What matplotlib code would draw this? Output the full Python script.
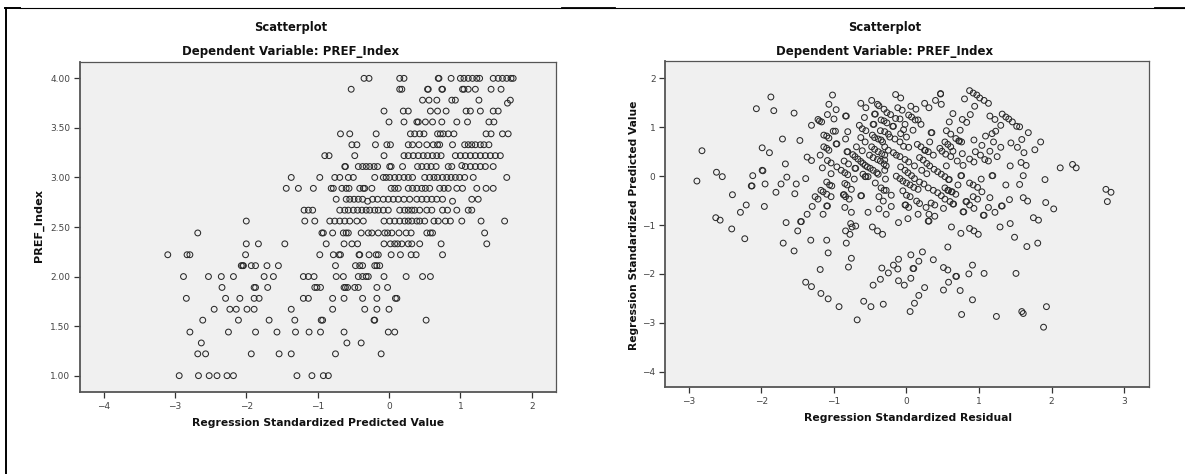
import numpy as np
import matplotlib
matplotlib.use('Agg')
import matplotlib.pyplot as plt
from matplotlib.lines import Line2D

W, H = 1185, 474

# left chart: standardized predicted value for each PREF_Index level
row_400 = [-.35, -.28, .15, .21, .69, .70, .87, 1.0, 1.05, 1.11, 1.17, 1.23, 1.27, 1.46, 1.53, 1.59, 1.65, 1.71, 1.74]
row_389 = [-.53, .15, .18, .54, .55, .74, .75, 1.03, 1.05, 1.11, 1.21, 1.43, 1.57]
row_378 = [.47, .56, .67, .88, .93, 1.26, 1.70]
row_367 = [-.07, .2, .27, .58, .68, .80, 1.08, 1.14, 1.28, 1.46, 1.53]
row_356 = [0, .21, .39, .41, .51, .61, .74, .95, 1.10, 1.40, 1.47]
row_344 = [-.68, -.55, -.18, .30, .36, .43, .49, .68, .72, .76, .83, .91, 1.36, 1.43, 1.59, 1.67]
row_333 = [-.52, -.45, -.19, -.03, .02, .27, .33, .42, .53, .62, .68, .71, .89, 1.06, 1.11, 1.16, 1.21, 1.28, 1.33, 1.40]
row_322 = [-.90, -.84, -.48, -.07, .21, .27, .34, .41, .48, .54, .61, .67, .73, .93, 1.0, 1.07, 1.14, 1.21, 1.28, 1.35, 1.42, 1.49, 1.56]
row_311 = [-.62, -.61, -.43, -.37, -.32, -.27, -.21, -.16, .01, .03, .19, .40, .46, .53, .59, .66, .83, .88, 1.07, 1.14, 1.21, 1.28, 1.35, 1.46]
row_300 = [-1.37, -.97, -.76, -.69, -.57, -.5, -.20, -.08, -.04, .01, .08, .14, .21, .27, .33, .50, .57, .63, .68, .75, .81, .87, .93, .99, 1.06, 1.18, 1.65]
row_289 = [-1.44, -1.27, -1.06, -.81, -.78, -.66, -.6, -.56, -.41, -.36, -.34, -.24, .03, .08, .13, .27, .33, .39, .46, .51, .57, .71, .77, .83, .95, 1.03, 1.23, 1.36, 1.46]
row_278 = [-.74, -.6, -.55, -.49, -.43, -.37, -.23, -.16, -.08, -.01, .06, .13, .21, .29, .39, .46, .53, .6, .67, .75, 1.16, 1.25]
row_267 = [-1.19, -1.13, -1.07, -.69, -.62, -.57, -.5, -.44, -.38, -.32, -.27, -.2, -.15, -.08, -.01, .15, .22, .27, .32, .36, .43, .53, .6, .75, .82, .95, 1.11, 1.16]
row_256 = [-2.0, -1.18, -1.04, -.83, -.76, -.69, -.62, -.55, -.45, -.36, -.07, .01, .08, .15, .22, .27, .32, .39, .43, .5, .63, .69, .79, .86, 1.02, 1.29, 1.62]
row_244 = [-2.68, -.94, -.92, -.79, -.64, -.60, -.57, -.39, -.29, -.24, -.15, -.06, -.02, .04, .14, .24, .31, .53, .58, .61, 1.34]
row_233 = [-2.0, -1.83, -1.46, -.88, -.63, -.52, -.44, -.07, .02, .08, .12, .18, .27, .32, .43, .73, 1.37]
row_222 = [-3.10, -2.83, -2.79, -2.01, -.97, -.78, -.70, -.68, -.42, -.41, -.28, -.18, -.15, .03, .16, .31, .38, .75]
row_211 = [-2.07, -2.05, -2.04, -1.93, -1.87, -1.71, -1.55, -.75, -.47, -.41, -.37, -.2, -.17, -.13]
row_200 = [-2.88, -2.53, -2.35, -2.18, -1.75, -1.62, -1.2, -1.13, -1.05, -.74, -.64, -.43, -.37, -.32, -.29, -.07, .24, .47, .58]
row_189 = [-2.34, -1.89, -1.87, -1.70, -1.04, -1.01, -.96, -.63, -.61, -.58, -.48, -.43, -.17, -.02]
row_178 = [-2.84, -2.29, -2.09, -1.89, -1.82, -1.2, -1.13, -.79, -.63, -.37, -.17, .09, .11]
row_167 = [-2.45, -2.23, -2.14, -1.99, -1.89, -1.37, -.79, -.34, -.17, 0]
row_156 = [-2.61, -2.11, -1.68, -1.32, -.95, -.93, -.21, -.2, .52]
row_144 = [-2.79, -2.25, -1.87, -1.57, -1.31, -1.12, -.96, -.63, -.01, .08]
row_133 = [-2.63, -.59, -.39]
row_122 = [-2.68, -2.57, -1.93, -1.54, -1.37, -.75, -.11]
row_100 = [-2.94, -2.67, -2.52, -2.41, -2.27, -2.18, -1.29, -1.08, -.92, -.85]

pref_levels = [4.00, 3.89, 3.78, 3.67, 3.56, 3.44, 3.33, 3.22, 3.11, 3.00, 2.89, 2.78, 2.67, 2.56,
               2.44, 2.33, 2.22, 2.11, 2.00, 1.89, 1.78, 1.67, 1.56, 1.44, 1.33, 1.22, 1.00]
pref_rows = [row_400, row_389, row_378, row_367, row_356, row_344, row_333, row_322, row_311, row_300,
             row_289, row_278, row_267, row_256, row_244, row_233, row_222, row_211, row_200, row_189,
             row_178, row_167, row_156, row_144, row_133, row_122, row_100]
# the few points that sit off the rows
off_x = [1.66, 1.02, -.30, .89]
off_y = [3.75, 3.12, 2.76, 2.76]

# right chart: (standardized residual, standardized predicted value)
resid_pred = [
    (-2.82, .52), (-2.89, -.10), (-2.62, .08), (-2.54, -.01), (-2.40, -.38), (-2.21, -.59), (-2.29, -.74),
    (-2.63, -.85), (-2.57, -.90), (-2.41, -1.08), (-2.07, 1.38), (-1.87, 1.62), (-1.83, 1.34), (-1.55, 1.29),
    (-1.71, .76), (-1.47, .73), (-1.99, .58), (-1.89, .48), (-1.67, .25), (-1.99, .12), (-1.98, .11),
    (-2.12, .01), (-1.65, -.02), (-2.14, -.20), (-2.13, -.20), (-1.95, -.16), (-1.73, -.16), (-1.80, -.33),
    (-1.52, -.16), (-1.39, -.05), (-1.54, -.36), (-1.96, -.62), (-1.37, .39), (-1.31, .32), (-1.31, 1.04),
    (-1.22, 1.16), (-1.20, 1.13), (-1.17, 1.11), (-1.09, 1.26), (-1.07, 1.47), (-1.02, 1.66), (-.97, 1.36),
    (-1.00, 1.17), (-.84, 1.23), (-.83, 1.23), (-1.01, .92), (-.98, .92), (-.81, .91), (-.84, .76),
    (-1.14, .84), (-1.10, .82), (-1.07, .78), (-.97, .66), (-.96, .66), (-1.14, .60), (-1.10, .57),
    (-1.07, .53), (-1.19, .43), (-1.09, .32), (-1.04, .27), (-1.16, .17), (-.96, .19), (-.90, .12),
    (-.85, .07), (-.81, .03), (-1.04, .05), (-.72, -.06), (-.86, .31), (-.80, .25), (-.82, .50), (-.81, .50),
    (-.69, .60), (-.61, .52), (-.71, .16), (-.70, .16), (-.74, .44), (-.71, .40), (-.67, .35), (-.63, .30),
    (-.60, .26), (-.57, .22), (-.54, .19), (-.50, .16), (-.46, .12), (-.41, .07), (-.63, 1.49), (-.56, 1.40),
    (-.58, 1.20), (-.48, 1.55), (-.40, 1.47), (-.38, 1.44), (-.31, 1.37), (-.27, 1.30), (-.22, 1.26),
    (-.15, 1.18), (-.44, 1.27), (-.43, 1.27), (-.35, 1.15), (-.31, 1.13), (-.27, 1.09), (-.19, 1.02),
    (-.18, 1.02), (-.65, 1.04), (-.61, .97), (-.56, .93), (-.46, 1.06), (-.45, 1.06), (-.47, .84), (-.63, .79),
    (-.57, .70), (-.48, .60), (-.44, .79), (-.39, .76), (-.36, .93), (-.30, .91), (-.25, .86), (-.23, .80),
    (-.35, .74), (-.33, .70), (-.51, .43), (-.46, .38), (-.40, .34), (-.36, .31), (-.31, .25), (-.28, .21),
    (-.44, .55), (-.39, .50), (-.34, .46), (-.30, .43), (-.60, .04), (-.57, -.01), (-.56, -.01), (-.53, -.01),
    (-.39, .04), (-.43, -.14), (-.29, -.06), (-.35, -.24), (-.31, -.29), (-.21, -.39), (-.38, -.42),
    (-.32, -.51), (-.21, -.62), (-.38, -.67), (-.28, -.78), (-.53, -.74), (-.63, -.40), (-.62, -.40),
    (-.76, -.27), (-.79, -.47), (-.85, -.15), (-.82, -.18), (-.87, -.38), (-.86, -.38), (-.84, -.42),
    (-1.10, -.12), (-1.06, -.18), (-1.03, -.20), (-1.18, -.29), (-1.15, -.32), (-1.10, -.37), (-1.04, -.42),
    (-1.26, -.42), (-1.22, -.47), (-1.30, -.62), (-1.37, -.78), (-1.10, -.61), (-1.09, -.61), (-1.15, -.78),
    (-.85, -.64), (-.76, -.74), (-.11, -.95), (-1.66, -.95), (-1.46, -.93), (-1.45, -.93), (-1.50, -1.12),
    (-.77, -.97), (-.75, -1.04), (-.70, -1.02), (-.84, -1.12), (-.78, -1.19), (-.47, -1.04), (-.40, -1.12),
    (-.33, -1.19), (-.15, 1.67), (-.08, 1.60), (-.12, 1.40), (-.06, 1.35), (.06, 1.43), (.13, 1.37),
    (.25, 1.49), (.31, 1.40), (.40, 1.55), (.47, 1.69), (.47, 1.68), (.48, 1.47), (-.09, 1.17), (-.02, 1.06),
    (.03, 1.25), (.07, 1.21), (.12, 1.15), (.16, 1.15), (.20, 1.06), (.09, .94), (-.08, .87), (0, .80),
    (-.04, .95), (-.16, .76), (-.09, .70), (-.04, .61), (.03, .59), (.34, .89), (.35, .89), (.32, .70),
    (.15, .65), (.20, .60), (.25, .53), (.26, .53), (.30, .50), (.37, .43), (.46, .57), (.49, .51), (.55, .93),
    (.61, .86), (.68, .77), (.72, .72), (.73, .72), (.76, .70), (.53, .70), (.57, .65), (.61, .60), (.64, .51),
    (.54, .45), (.61, .40), (.77, .46), (.70, .31), (.78, .22), (.55, .21), (.11, .21), (-.30, .60),
    (-.25, .53), (-.18, .48), (-.14, .43), (-.09, .40), (-.02, .34), (.03, .29), (.18, .38), (.23, .33),
    (.28, .26), (.32, .21), (.38, .14), (.43, .09), (.48, .04), (.53, -.01), (.58, -.07), (.59, -.07),
    (.21, .12), (.28, .05), (-.08, .19), (-.02, .12), (.02, .07), (.07, .01), (.11, -.05), (-.14, 0),
    (-.09, -.05), (-.05, -.10), (0, -.14), (.05, -.18), (.10, -.23), (.16, -.27), (.18, -.12), (.24, -.16),
    (.30, -.24), (.37, -.29), (.43, -.34), (.48, -.40), (.53, -.47), (.60, -.52), (.64, -.57), (.65, -.57),
    (.57, -.29), (.58, -.29), (.62, -.32), (.63, -.32), (.68, -.37), (.53, -.24), (.71, -.18), (.75, .01),
    (.76, .01), (-.30, .33), (-.30, .12), (-.28, -.29), (-.05, -.30), (0, -.39), (.05, -.42), (-.02, -.59),
    (-.01, -.59), (.03, -.64), (.14, -.51), (.18, -.56), (.27, -.64), (.34, -.55), (.39, -.59), (.51, -.66),
    (.31, -.78), (.39, -.82), (.16, -.78), (.02, -.87), (.30, -.92), (.31, -.92), (.62, -1.04), (.75, -1.17),
    (.87, -1.07), (.93, -1.12), (.99, -1.19), (.78, -.73), (.79, -.73), (.82, -.52), (.83, -.52), (.87, -.59),
    (.93, -.66), (1.06, -.80), (1.07, -.80), (1.03, -.06), (1.18, .01), (1.19, .01), (1.29, -1.04),
    (1.43, -.97), (1.13, -.64), (1.22, -.74), (1.31, -.61), (1.32, -.61), (1.42, -.48), (1.61, -.44),
    (1.67, -.51), (1.92, -.54), (2.03, -.67), (1.75, -.85), (1.82, -.90), (1.49, -1.25), (1.37, -.18),
    (1.56, -.17), (1.61, .01), (1.91, -.07), (1.43, .21), (1.58, .28), (1.65, .22), (.87, -.14), (.92, -.18),
    (.98, -.23), (1.04, -.32), (1.15, -.44), (.92, -.42), (.98, -.47), (.64, 1.28), (.59, 1.11), (.77, 1.16),
    (.83, 1.10), (.88, 1.26), (.74, .94), (.94, 1.43), (.80, 1.58), (.87, 1.75), (.92, 1.70), (.97, 1.66),
    (1.01, 1.60), (1.07, 1.55), (1.13, 1.49), (1.15, 1.23), (1.22, 1.16), (1.30, 1.04), (1.32, 1.27),
    (1.37, 1.21), (1.41, 1.17), (1.46, 1.11), (1.52, 1.02), (1.56, 1.01), (1.68, .89), (1.23, .92),
    (1.18, .87), (1.09, .82), (.93, .74), (1.04, .63), (1.20, .70), (1.30, .59), (1.15, .51), (1.25, .40),
    (.95, .50), (1.02, .43), (1.08, .34), (1.13, .31), (.87, .35), (.93, .29), (1.44, .68), (1.53, .59),
    (1.62, .48), (1.59, .75), (1.77, .54), (1.85, .70), (2.12, .17), (2.29, .24), (2.34, .17), (2.75, -.27),
    (2.82, -.33), (2.77, -.52), (-2.23, -1.28), (-1.70, -1.37), (-1.32, -1.31), (-1.10, -1.31), (-.83, -1.37),
    (-1.55, -1.53), (-1.08, -1.57), (-.76, -1.68), (-.80, -1.86), (-1.19, -1.91), (-1.39, -2.17),
    (-1.31, -2.26), (-1.18, -2.40), (-1.08, -2.51), (-.93, -2.67), (-.59, -2.56), (-.49, -2.67), (-.32, -2.62),
    (-.68, -2.94), (-.46, -2.23), (-.36, -2.11), (-.25, -1.98), (-.34, -1.88), (-.18, -1.82), (-.12, -1.90),
    (-.11, -1.70), (-.11, -2.14), (.06, -1.61), (.22, -1.55), (.17, -1.74), (.37, -1.71), (.09, -1.89),
    (.10, -1.89), (.06, -2.09), (-.03, -2.23), (.25, -2.28), (.17, -2.44), (.11, -2.60), (.05, -2.77),
    (.51, -1.87), (.57, -1.92), (.68, -2.05), (.69, -2.05), (.58, -2.17), (.86, -2.00), (.91, -1.82),
    (1.07, -1.99), (1.51, -1.99), (.51, -2.33), (.74, -2.34), (.91, -2.53), (.76, -2.83), (1.24, -2.87),
    (1.59, -2.77), (1.61, -2.81), (1.93, -2.67), (1.89, -3.09), (.57, -1.45), (1.66, -1.44), (1.81, -1.37),
]

left_xticks = [-4, -3, -2, -1, 0, 1, 2]
left_yticks = [1.0, 1.5, 2.0, 2.5, 3.0, 3.5, 4.0]
right_xticks = [-3, -2, -1, 0, 1, 2, 3]
right_yticks = [-4, -3, -2, -1, 0, 1, 2]

plt.rcParams['font.family'] = ['DejaVu Sans']
EDGE = '#555555'
MARK = dict(s=17.5, facecolors='none', edgecolors='#2a2a2a', linewidths=0.75)
BOLD = dict(ha='center', va='center', fontweight='bold', color='#111111')


def make_axes(fig, box, xlim, ylim, xticks, yticks):
    # box is left, top, right, bottom in pixels
    l, t, r, b = box
    ax = fig.add_axes([l / W, 1 - b / H, (r - l) / W, (b - t) / H], facecolor='#f0f0f0')
    ax.set_xlim(xlim)
    ax.set_ylim(ylim)
    ax.set_xticks(xticks)
    ax.set_yticks(yticks)
    ax.tick_params(length=4.3, width=0.9, color='#333333', labelsize=6.5, labelcolor='#444444', pad=2.5)
    ax.spines['left'].set_linewidth(1.3)
    ax.spines['bottom'].set_linewidth(1.3)
    ax.spines['top'].set_linewidth(0.9)
    ax.spines['right'].set_linewidth(0.9)
    for s in ax.spines.values():
        s.set_color(EDGE)
    return ax


def titles(fig, cx):
    fig.text(cx / W, 1 - 27 / H, 'Scatterplot', fontsize=8.3, **BOLD)
    fig.text(cx / W, 1 - 52 / H, 'Dependent Variable: PREF_Index', fontsize=8.5, **BOLD)


fig = plt.figure(figsize=(W / 100, H / 100), dpi=100, facecolor='white')

# left chart
ax1 = make_axes(fig, (80, 62, 556, 392.3), (-4.33, 2.34), (0.832, 4.165), left_xticks, left_yticks)
for level, row in zip(pref_levels, pref_rows):
    ax1.scatter(row, [level] * len(row), **MARK)
ax1.scatter(off_x, off_y, **MARK)
ax1.set_yticklabels(['%.2f' % v for v in left_yticks])
ax1.set_xticklabels(['\u2212%d' % abs(v) if v < 0 else str(v) for v in left_xticks])
fig.text(318.5 / W, 1 - 423 / H, 'Regression Standardized Predicted Value', fontsize=7.75, **BOLD)
fig.text(39 / W, 1 - 225 / H, 'PREF_Index', rotation=90, fontsize=8.1, **BOLD)
titles(fig, 290.6)

# right chart
ax2 = make_axes(fig, (665, 61.3, 1148.7, 387.3), (-3.33, 3.34), (-4.32, 2.35), right_xticks, right_yticks)
pts = np.array(resid_pred)
ax2.scatter(pts[:, 0], pts[:, 1], **MARK)
ax2.set_xticklabels(['\u2212%d' % abs(v) if v < 0 else str(v) for v in right_xticks])
ax2.set_yticklabels(['\u2212%d' % abs(v) if v < 0 else str(v) for v in right_yticks])
fig.text(907.5 / W, 1 - 418 / H, 'Regression Standardized Residual', fontsize=7.75, **BOLD)
fig.text(634 / W, 1 - 225 / H, 'Regression Standardized Predicted Value', rotation=90, fontsize=7.65, **BOLD)
titles(fig, 884.7)

# table rules of the page around the charts
rules = [
    ([5.7, 5.7], [7.5, 474], 1.4),
    ([5, 20], [7.8, 7.8], 1.4),
    ([20, 1185], [7.5, 7.5], 0.8),
    ([562, 615], [7.8, 7.8], 1.3),
    ([1155, 1185], [7.8, 7.8], 1.3),
]
for xs, ys, lw in rules:
    fig.add_artist(Line2D([x / W for x in xs], [1 - y / H for y in ys], color='black', linewidth=lw))

fig.savefig('out.png', dpi=100)
